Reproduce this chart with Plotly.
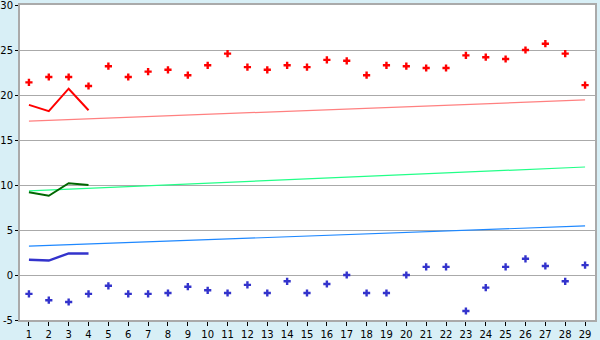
import plotly.graph_objects as go

days = list(range(1, 30))
max_temps = [21.4, 22.0, 22.0, 21.0, 23.2, 22.0, 22.6, 22.8, 22.2, 23.3,
             24.6, 23.1, 22.8, 23.3, 23.1, 23.9, 23.8, 22.2, 23.3, 23.2,
             23.0, 23.0, 24.4, 24.2, 24.0, 25.0, 25.7, 24.6, 21.1]
min_temps = [-2.1, -2.8, -3.0, -2.1, -1.2, -2.1, -2.1, -2.0, -1.3, -1.7,
             -2.0, -1.1, -2.0, -0.7, -2.0, -1.0, 0.0, -2.0, -2.0, 0.0,
             0.9, 0.9, -4.0, -1.4, 0.9, 1.8, 1.0, -0.7, 1.1]
line_days = [1, 2, 3, 4]
max_line = [18.9, 18.2, 20.7, 18.3]
mean_line = [9.2, 8.8, 10.2, 10.0]
min_line = [1.7, 1.6, 2.4, 2.4]
trend_days = [1, 29]
max_trend = [17.1, 19.45]
mean_trend = [9.35, 12.0]
min_trend = [3.2, 5.45]
y_ticks = [-5, 0, 5, 10, 15, 20, 25, 30]
y_tick_labels = ["-5", "0", "5", "10", "15", "20", "25", "30"]

fig = go.Figure()
fig.add_trace(go.Scatter(x=trend_days, y=max_trend, mode="lines",
                         line=dict(color="#FF8080", width=1.2)))
fig.add_trace(go.Scatter(x=trend_days, y=mean_trend, mode="lines",
                         line=dict(color="#22FF88", width=1.2)))
fig.add_trace(go.Scatter(x=trend_days, y=min_trend, mode="lines",
                         line=dict(color="#1E88FF", width=1.2)))
fig.add_trace(go.Scatter(x=line_days, y=max_line, mode="lines",
                         line=dict(color="#FF0000", width=2)))
fig.add_trace(go.Scatter(x=line_days, y=mean_line, mode="lines",
                         line=dict(color="#006600", width=2)))
fig.add_trace(go.Scatter(x=line_days, y=min_line, mode="lines",
                         line=dict(color="#3333CC", width=2.5)))
fig.add_trace(go.Scatter(x=days, y=max_temps, mode="markers",
                         marker=dict(symbol="cross", size=6, color="#FF0000")))
fig.add_trace(go.Scatter(x=days, y=min_temps, mode="markers",
                         marker=dict(symbol="cross", size=6, color="#3333CC")))

fig.update_layout(
    width=600, height=340,
    margin=dict(l=20, r=5, t=5, b=20),
    paper_bgcolor="#D8EFF6", plot_bgcolor="#FFFFFF",
    showlegend=False,
    font=dict(family="DejaVu Sans", size=10, color="#000000"),
)
fig.update_xaxes(range=[0.55, 29.5], tickmode="array", tickvals=days,
                 showgrid=False, zeroline=False, automargin=False,
                 ticklabeloverflow="allow",
                 showline=True, linecolor="#AAAAAA", linewidth=2, mirror=True,
                 ticks="outside", ticklen=4, tickcolor="#000000", tickwidth=1)
fig.update_yaxes(range=[-5, 30], tickmode="array", tickvals=y_ticks,
                 ticktext=y_tick_labels,
                 showgrid=True, gridcolor="#AAAAAA", gridwidth=1, zeroline=False,
                 automargin=False, ticklabeloverflow="allow",
                 showline=True, linecolor="#AAAAAA", linewidth=2, mirror=True,
                 ticks="outside", ticklen=3, tickcolor="#000000", tickwidth=1)

fig.write_html("out.html")
